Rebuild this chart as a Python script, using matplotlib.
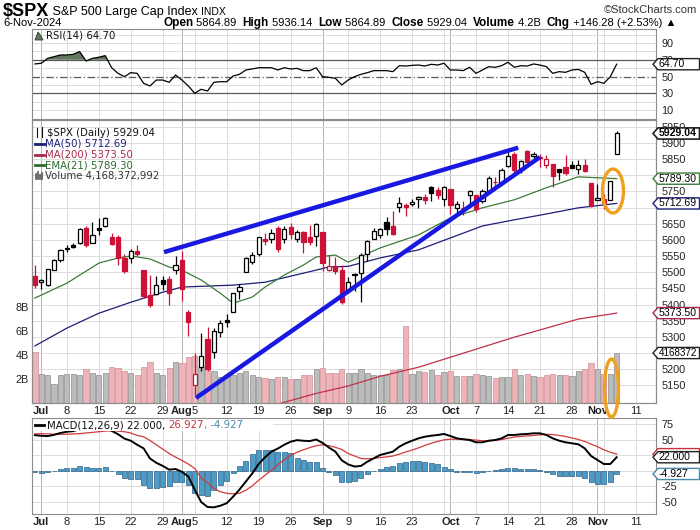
import matplotlib
matplotlib.use("Agg")
import matplotlib.pyplot as plt
import numpy as np
from matplotlib.patches import Polygon, Ellipse, Rectangle
from matplotlib.lines import Line2D
from matplotlib import font_manager

# ---------------- data ----------------
dates = ["Jun 28", "Jul 1", "Jul 2", "Jul 3", "Jul 5", "Jul 8", "Jul 9", "Jul 10", "Jul 11", "Jul 12",
         "Jul 15", "Jul 16", "Jul 17", "Jul 18", "Jul 19", "Jul 22", "Jul 23", "Jul 24", "Jul 25", "Jul 26",
         "Jul 29", "Jul 30", "Jul 31", "Aug 1", "Aug 2", "Aug 5", "Aug 6", "Aug 7", "Aug 8", "Aug 9",
         "Aug 12", "Aug 13", "Aug 14", "Aug 15", "Aug 16", "Aug 19", "Aug 20", "Aug 21", "Aug 22", "Aug 23",
         "Aug 26", "Aug 27", "Aug 28", "Aug 29", "Aug 30", "Sep 3", "Sep 4", "Sep 5", "Sep 6", "Sep 9",
         "Sep 10", "Sep 11", "Sep 12", "Sep 13", "Sep 16", "Sep 17", "Sep 18", "Sep 19", "Sep 20", "Sep 23",
         "Sep 24", "Sep 25", "Sep 26", "Sep 27", "Sep 30", "Oct 1", "Oct 2", "Oct 3", "Oct 4", "Oct 7",
         "Oct 8", "Oct 9", "Oct 10", "Oct 11", "Oct 14", "Oct 15", "Oct 16", "Oct 17", "Oct 18", "Oct 21",
         "Oct 22", "Oct 23", "Oct 24", "Oct 25", "Oct 28", "Oct 29", "Oct 30", "Oct 31", "Nov 1", "Nov 4",
         "Nov 5", "Nov 6"]
future_dates = ["Nov 7", "Nov 8", "Nov 11", "Nov 12", "Nov 13", "Nov 14"]

prior_close = 5482.87
opens = [5488.5, 5471.1, 5461.8, 5507.4, 5537.9, 5572.8, 5584.2, 5591.3, 5635.2, 5590.8,
         5638.2, 5644.1, 5610.1, 5608.6, 5543.4, 5544.5, 5565.3, 5505.8, 5428.7, 5433.7,
         5476.6, 5478.7, 5505.6, 5537.8, 5376.6, 5151.1, 5206.4, 5293.1, 5252.6, 5314.0,
         5351.9, 5377.0, 5442.9, 5501.1, 5530.5, 5557.2, 5602.9, 5603.1, 5637.8, 5602.9,
         5639.7, 5602.9, 5624.5, 5607.3, 5612.7, 5623.9, 5506.7, 5520.1, 5507.3, 5442.1,
         5490.5, 5496.4, 5557.5, 5603.3, 5615.2, 5655.5, 5641.7, 5702.6, 5709.2, 5711.9,
         5727.6, 5733.7, 5762.2, 5755.4, 5726.5, 5757.7, 5698.2, 5698.6, 5737.6, 5737.8,
         5719.1, 5751.8, 5778.4, 5775.1, 5829.8, 5866.7, 5816.6, 5875.6, 5859.4, 5857.8,
         5832.7, 5834.5, 5817.8, 5826.8, 5830.2, 5819.7, 5832.7, 5775.3, 5723.2, 5725.2,
         5722.4, 5864.9]
highs = [5523.6, 5479.6, 5509.7, 5539.3, 5570.3, 5583.1, 5590.8, 5635.4, 5642.5, 5655.6,
         5666.9, 5669.7, 5622.5, 5614.1, 5557.5, 5570.4, 5585.3, 5508.0, 5491.6, 5488.3,
         5487.7, 5489.5, 5551.5, 5566.2, 5383.9, 5250.9, 5312.3, 5330.6, 5328.0, 5350.7,
         5371.2, 5436.5, 5463.2, 5546.2, 5562.0, 5608.3, 5620.5, 5632.7, 5643.2, 5641.8,
         5651.6, 5631.2, 5627.0, 5647.0, 5651.4, 5623.9, 5553.0, 5546.3, 5522.5, 5484.2,
         5497.9, 5560.4, 5600.7, 5636.3, 5636.1, 5670.8, 5689.8, 5733.6, 5715.1, 5725.4,
         5735.3, 5741.0, 5767.4, 5763.8, 5765.1, 5757.7, 5719.1, 5718.8, 5753.9, 5739.3,
         5757.6, 5796.8, 5795.0, 5822.1, 5871.4, 5870.4, 5846.5, 5878.5, 5872.2, 5866.9,
         5863.0, 5834.9, 5817.8, 5862.8, 5842.9, 5847.2, 5850.9, 5775.3, 5772.8, 5741.4,
         5783.4, 5936.1]
lows = [5451.1, 5446.5, 5458.4, 5507.4, 5531.6, 5562.5, 5574.6, 5586.4, 5576.5, 5590.4,
        5614.8, 5639.0, 5584.8, 5522.8, 5497.0, 5529.0, 5550.9, 5420.0, 5391.0, 5430.7,
        5444.4, 5398.8, 5493.8, 5410.4, 5302.0, 5119.3, 5193.6, 5195.5, 5233.9, 5300.0,
        5331.0, 5377.0, 5415.9, 5501.1, 5525.2, 5550.7, 5585.5, 5591.6, 5561.0, 5590.1,
        5602.3, 5593.5, 5560.2, 5583.7, 5581.8, 5504.3, 5503.7, 5493.3, 5402.6, 5434.5,
        5441.7, 5407.0, 5535.5, 5601.7, 5604.5, 5614.1, 5615.1, 5686.4, 5674.5, 5704.9,
        5699.0, 5712.1, 5721.0, 5727.3, 5703.5, 5681.3, 5674.0, 5677.4, 5702.7, 5686.9,
        5714.6, 5745.0, 5764.8, 5775.1, 5824.8, 5804.5, 5808.3, 5840.3, 5846.1, 5824.7,
        5821.2, 5762.4, 5784.9, 5800.0, 5823.1, 5802.5, 5811.3, 5702.9, 5723.2, 5696.5,
        5722.1, 5864.9]
closes = [5460.5, 5475.1, 5509.0, 5537.0, 5567.2, 5572.9, 5577.0, 5633.9, 5584.5, 5615.4,
          5631.2, 5667.2, 5588.3, 5544.6, 5505.0, 5564.4, 5555.7, 5427.1, 5399.2, 5459.1,
          5463.5, 5436.4, 5522.3, 5446.7, 5346.6, 5186.3, 5240.0, 5199.5, 5319.3, 5344.2,
          5344.4, 5434.4, 5455.2, 5543.2, 5554.3, 5608.3, 5597.1, 5620.9, 5570.6, 5634.6,
          5616.8, 5625.8, 5592.2, 5592.0, 5648.4, 5528.9, 5520.1, 5503.4, 5408.4, 5471.1,
          5495.5, 5554.1, 5595.8, 5626.0, 5633.1, 5634.6, 5618.3, 5713.6, 5702.6, 5718.6,
          5732.9, 5722.3, 5745.4, 5738.2, 5762.5, 5708.8, 5709.5, 5699.9, 5751.1, 5695.9,
          5751.1, 5792.0, 5780.1, 5815.0, 5859.9, 5815.3, 5842.5, 5841.5, 5864.7, 5854.0,
          5851.2, 5797.4, 5809.9, 5808.1, 5823.5, 5832.9, 5813.7, 5705.5, 5728.8, 5712.7,
          5782.8, 5929.04]
volume_b = [4.28, 2.39, 2.35, 1.56, 2.30, 2.40, 2.40, 2.30, 2.80, 2.47,
            2.35, 2.47, 3.03, 2.90, 2.70, 2.47, 2.35, 2.97, 3.44, 2.53,
            2.35, 2.90, 3.42, 3.30, 3.86, 3.90, 3.03, 2.80, 2.64, 2.14,
            2.30, 2.35, 2.47, 2.70, 2.30, 2.14, 2.08, 2.00, 2.20, 2.14,
            2.00, 2.00, 2.30, 2.35, 2.86, 2.90, 2.47, 2.47, 2.80, 2.50,
            2.53, 2.80, 2.50, 2.36, 2.36, 2.36, 2.78, 2.80, 6.40, 2.44,
            2.64, 2.55, 2.78, 2.36, 2.58, 2.70, 2.28, 2.28, 2.28, 2.40,
            2.36, 2.28, 2.08, 2.16, 2.16, 2.83, 2.36, 2.40, 2.28, 2.16,
            2.36, 2.40, 2.36, 2.36, 2.28, 2.70, 2.83, 3.30, 2.86, 2.44,
            2.44, 4.17]

ma50_dates = ["Jun 28", "Jul 8", "Jul 15", "Jul 22", "Jul 29", "Aug 1", "Aug 13", "Aug 20", "Aug 28",
              "Sep 4", "Sep 9", "Sep 16", "Sep 24", "Oct 1", "Oct 8", "Oct 15", "Oct 22", "Oct 29", "Nov 6"]
ma50_values = [5272, 5327, 5373, 5407, 5438, 5454, 5460, 5469, 5497,
               5516, 5518, 5544, 5569, 5606, 5643, 5662, 5680, 5699, 5712.69]

ema21_dates = ["Jun 28", "Jul 8", "Jul 15", "Jul 18", "Jul 22", "Jul 25", "Jul 30", "Aug 1", "Aug 6",
               "Aug 9", "Aug 13", "Aug 16", "Aug 20", "Aug 23", "Aug 28", "Aug 30", "Sep 5", "Sep 9",
               "Sep 16", "Sep 24", "Oct 1", "Oct 8", "Oct 15", "Oct 22", "Oct 29", "Nov 1", "Nov 6"]
ema21_values = [5420, 5466, 5528, 5544, 5550, 5541, 5516, 5506, 5476,
                5435, 5404, 5423, 5454, 5491, 5522, 5547, 5553, 5531,
                5575, 5615, 5668, 5699, 5724, 5761, 5795, 5792, 5789.30]

ma200_dates = ["Aug 22", "Aug 30", "Sep 9", "Sep 16", "Sep 24", "Oct 1", "Oct 8", "Oct 15", "Oct 22",
               "Oct 29", "Nov 6"]
ma200_values = [5092, 5125, 5148, 5178, 5206, 5237, 5268, 5299, 5327, 5355, 5373.50]

rsi_values = [65.0, 65.8, 71.7, 73.7, 75.7, 75.7, 76.5, 79.7, 68.5, 71.7,
              73.0, 74.9, 60.5, 53.8, 49.8, 54.6, 53.8, 41.9, 38.7, 45.8,
              45.8, 43.1, 51.8, 45.8, 38.7, 30.0, 34.7, 32.7, 43.1, 43.8,
              43.8, 50.6, 52.6, 57.8, 59.0, 60.5, 60.5, 60.5, 57.8, 60.5,
              59.0, 59.7, 57.0, 57.0, 60.5, 49.8, 49.0, 47.9, 39.9, 45.8,
              49.8, 52.6, 54.6, 57.0, 57.0, 57.0, 55.8, 62.9, 62.5, 63.3,
              63.7, 62.5, 64.6, 63.7, 65.8, 57.8, 57.8, 57.0, 61.0, 53.8,
              57.8, 61.8, 61.0, 62.9, 67.0, 61.0, 62.9, 62.5, 65.0, 63.7,
              61.8, 53.8, 55.8, 55.0, 57.8, 58.5, 55.0, 40.7, 43.8, 41.9,
              49.8, 64.70]

macd_values = [57.5, 56.5, 56.0, 58.0, 61.0, 63.0, 64.0, 67.0, 67.5, 68.0,
               68.0, 70.0, 64.5, 59.0, 52.0, 48.5, 42.0, 36.3, 20.0, 13.0,
               8.0, 2.0, 3.0, -1.5, -9.0, -30.0, -50.0, -58.0, -58.6, -56.0,
               -52.0, -41.5, -30.0, -17.0, -4.0, 11.0, 22.0, 31.0, 36.0, 42.0,
               47.0, 49.5, 48.5, 48.0, 50.5, 45.0, 37.5, 31.0, 17.0, 10.5,
               7.0, 8.0, 14.8, 20.3, 25.6, 28.3, 31.0, 39.0, 44.4, 48.6,
               52.4, 55.0, 56.6, 57.8, 59.4, 56.1, 52.4, 50.8, 49.7, 46.0,
               46.0, 48.6, 49.7, 52.4, 57.8, 57.8, 58.9, 59.4, 60.5, 60.5,
               57.8, 52.4, 48.6, 46.0, 44.4, 42.8, 36.3, 24.0, 17.5, 11.1,
               11.1, 22.000]
signal_values = [59.5, 60.0, 59.5, 59.0, 59.0, 59.0, 59.5, 60.0, 61.0, 62.0,
                 63.0, 64.0, 64.5, 64.0, 63.0, 61.0, 57.0, 55.0, 49.0, 42.0,
                 35.0, 28.0, 22.0, 17.0, 11.0, 4.0, -11.0, -19.0, -28.0, -33.5,
                 -36.0, -37.0, -36.0, -31.0, -24.0, -15.0, -7.0, 1.0, 10.0, 18.0,
                 25.0, 30.0, 34.0, 37.5, 40.5, 42.0, 40.5, 38.0, 34.5, 28.0,
                 24.0, 20.0, 19.5, 20.0, 21.5, 22.5, 24.0, 27.0, 30.5, 33.5,
                 37.0, 41.0, 44.5, 47.5, 50.0, 51.0, 51.0, 51.0, 50.5, 49.5,
                 48.6, 48.5, 49.0, 50.5, 52.5, 54.5, 55.5, 56.2, 57.0, 58.0,
                 58.8, 58.5, 57.0, 55.5, 53.0, 50.5, 47.5, 43.0, 39.0, 34.0,
                 30.0, 26.927]
hist_values = [-1.0, -3.9, -2.0, 0.0, 2.7, 4.3, 4.3, 8.0, 5.9, 5.4,
               4.3, 5.9, 0.0, -5.4, -11.8, -12.9, -13.4, -22.5, -27.9, -27.9,
               -26.3, -24.1, -17.2, -17.2, -22.5, -35.9, -38.6, -40.2, -30.6, -22.5,
               -15.6, -3.8, 8.0, 16.1, 26.8, 33.8, 33.8, 33.8, 31.1, 31.1,
               28.4, 21.4, 17.7, 15.0, 13.9, 4.3, -2.1, -6.4, -17.2, -17.2,
               -16.0, -10.7, -4.8, 0.0, 3.2, 7.0, 8.0, 13.4, 15.0, 16.1,
               16.1, 13.9, 12.3, 10.7, 7.0, 2.7, -1.0, -2.0, -2.0, -3.8,
               -2.0, 0.5, 1.0, 2.7, 5.4, 4.3, 3.8, 3.8, 3.2, 1.6,
               -1.0, -4.8, -7.5, -8.0, -8.0, -8.0, -10.7, -18.2, -20.9, -20.9,
               -17.2, -4.927]

month_tick_dates = ["Jul 1", "Aug 1", "Sep 3", "Oct 1", "Nov 1"]
month_tick_labels = ["Jul", "Aug", "Sep", "Oct", "Nov"]
week_tick_dates = ["Jul 8", "Jul 15", "Jul 22", "Jul 29", "Aug 5", "Aug 12", "Aug 19", "Aug 26",
                   "Sep 9", "Sep 16", "Sep 23", "Oct 7", "Oct 14", "Oct 21", "Oct 28", "Nov 11"]
week_tick_labels = ["8", "15", "22", "29", "5", "12", "19", "26", "9", "16", "23", "7", "14", "21", "28", "11"]
grid_only_dates = ["Sep 30", "Nov 4"]

price_ticks = list(range(5150, 5951, 50))
price_hidden = [5250, 5700, 5800]          # covered by the value tags
rsi_ticks = [10, 30, 50, 70, 90]
macd_ticks = [-50, -25, 0, 25, 50, 75]
macd_hidden = [0, 25]
vol_ticks = [2, 4, 6, 8]
vol_tick_labels = ["2B", "4B", "6B", "8B"]

# ---------------- style ----------------
W, H = 700, 530
names = {f.name for f in font_manager.fontManager.ttflist}
NARROW = "Liberation Sans Narrow" if "Liberation Sans Narrow" in names else "Liberation Sans"
SANS = "Liberation Sans"
LEG = "DejaVu Sans"

RED = "#cc1236"
GRID = "#dcdcdc"
GRID_M = "#b4b4b4"
SPINE = "#8c8c8c"

fig = plt.figure(figsize=(W / 100, H / 100), dpi=100)
fig.patch.set_facecolor("white")

all_dates = dates + future_dates
pos = {d: i for i, d in enumerate(all_dates)}
x = np.arange(len(dates))
PX0, STEP = 34.9, 6.393          # pixel of first bar, pixels per bar
L, R = 32, 656
XLIM = ((L - PX0) / STEP, (R - PX0) / STEP)


def axes_px(left, top, right, bottom, **kw):
    return fig.add_axes([left / W, 1 - bottom / H, (right - left) / W, (bottom - top) / H], **kw)


def fxy(px, py):
    return px / W, 1 - py / H


def style_axes(ax):
    for s in ax.spines.values():
        s.set_color(SPINE)
        s.set_linewidth(0.8)
    ax.tick_params(length=0, labelsize=7.5, colors="#222222")
    ax.set_xlim(*XLIM)


def vgrid(ax):
    for d in week_tick_dates + grid_only_dates:
        ax.axvline(pos[d], color=GRID, lw=0.7, zorder=0)
    for d in month_tick_dates:
        ax.axvline(pos[d], color=GRID_M, lw=0.7, zorder=0)


def xlabels(ax):
    ticks = [pos[d] for d in month_tick_dates + week_tick_dates]
    labs = month_tick_labels + week_tick_labels
    ax.set_xticks(ticks)
    ax.set_xticklabels(labs, fontfamily=SANS, fontsize=8)
    for t in ax.get_xticklabels():
        if t.get_text() in month_tick_labels:
            t.set_fontweight("bold")
    ax.tick_params(axis="x", pad=2)


def right_ticks(ax, ticks, hidden=()):
    ax.yaxis.tick_right()
    ax.set_yticks(ticks)
    ax.set_yticklabels(["" if t in hidden else str(t) for t in ticks], fontfamily=SANS, fontsize=7.8)
    ax.tick_params(axis="y", pad=4)


def hgrid(ax, ticks):
    for t in ticks:
        ax.axhline(t, color=GRID, lw=0.7, zorder=0)


TAGZ = [20]


def tag(ax, val, text, edge, bold=False, lw=1.0, size=7.6):
    y = ax.transData.transform((0, val))[1]
    yc = y / H
    h = 5.6 / H
    x0, x1 = 653 / W, 699.5 / W
    pts = [(x0, yc), (x0 + 5 / W, yc + h), (x1, yc + h), (x1, yc - h), (x0 + 5 / W, yc - h)]
    TAGZ[0] += 2
    fig.add_artist(Polygon(pts, closed=True, transform=fig.transFigure, facecolor="white",
                           edgecolor=edge, lw=lw, zorder=TAGZ[0]))
    if text:
        fig.text(x0 + 5.5 / W, yc, text, fontsize=size, fontfamily=SANS, va="center", ha="left",
                 fontweight="bold" if bold else "normal", zorder=TAGZ[0] + 1)


def pieces(px, py, parts, va="center", z=5):
    r = fig.canvas.get_renderer()
    cur = px
    for s, kw in parts:
        t = fig.text(*fxy(cur, py), s, va=va, ha="left", zorder=z, **kw)
        cur += t.get_window_extent(r).width
    return cur


# ---------------- RSI panel ----------------
ax_r = axes_px(L, 29, R, 119)
style_axes(ax_r)
ax_r.set_ylim(-0.7, 106.7)
vgrid(ax_r)
right_ticks(ax_r, rsi_ticks)
hgrid(ax_r, [10, 20, 40, 60, 80, 90, 100])
ax_r.set_xticks([])
rsi = np.array(rsi_values)
ax_r.fill_between(x, rsi, 70, where=rsi > 70, interpolate=True, color="#62785e", zorder=2, lw=0)
ax_r.fill_between(x, rsi, 30, where=rsi < 30, interpolate=True, color="#62785e", zorder=2, lw=0)
ax_r.axhline(70, color="#5a5a5a", lw=0.9, zorder=1)
ax_r.axhline(30, color="#5a5a5a", lw=0.9, zorder=1)
ax_r.axhline(50, color="#5a5a5a", lw=0.9, ls=(0, (6, 2, 1, 2)), zorder=1)
ax_r.plot(x, rsi, color="black", lw=0.9, zorder=3)

# ---------------- Price / volume panel ----------------
ax_v = axes_px(L, 120, R, 403)
style_axes(ax_v)
ax_v.set_ylim(0, 23.6)
ax_p = axes_px(L, 120, R, 403, sharex=ax_v)
ax_p.patch.set_visible(False)
style_axes(ax_p)
PMIN, PMAX = 5095.4, 5970.7
ax_p.set_ylim(PMIN, PMAX)
ax_v.set_zorder(1)
ax_p.set_zorder(2)

vgrid(ax_v)
for t in price_ticks:
    f = (t - PMIN) / (PMAX - PMIN)
    ax_v.plot([0, 1], [f, f], transform=ax_v.transAxes, color=GRID, lw=0.7, zorder=0)

o = np.array(opens); c = np.array(closes); hi = np.array(highs); lo = np.array(lows)
prev = np.concatenate([[prior_close], c[:-1]])
up = c >= prev
cols = np.where(up, "#000000", RED)
hollow = c > o

vcols = np.where(up, "#bcbcbc", "#eeb4b9")
vedge = np.where(up, "#9a9a9a", "#d69aa0")
ax_v.bar(x, volume_b, width=0.82, color=vcols, edgecolor=vedge, lw=0.6, zorder=2)
ax_v.yaxis.tick_left()
ax_v.set_yticks(vol_ticks)
ax_v.set_yticklabels(vol_tick_labels, fontfamily=SANS, fontsize=7.8)
ax_v.tick_params(axis="y", pad=2)
ax_v.tick_params(axis="x", labelbottom=False)

ax_p.plot([pos[d] for d in ma200_dates], ma200_values, color="#c0304a", lw=0.9, zorder=2)
ax_p.plot([pos[d] for d in ma50_dates], ma50_values, color="#1e1e78", lw=0.9, zorder=2)
ax_p.plot([pos[d] for d in ema21_dates], ema21_values, color="#3c7a3c", lw=0.9, zorder=2)

ax_p.vlines(x, lo, hi, colors=cols, lw=0.9, zorder=3)
body_b = np.minimum(o, c)
body_h = np.maximum(np.abs(c - o), 0.6)
faces = np.where(hollow, "white", cols)
ax_p.bar(x, body_h, bottom=body_b, width=0.66, color=faces, edgecolor=cols, lw=0.9, zorder=4)

right_ticks(ax_p, price_ticks, price_hidden)
xlabels(ax_p)
ax_p.tick_params(axis="x", labelbottom=True)

# trend-line annotations (blue) and highlight ellipses (orange)
ax_p.plot([20.2, 75.6], [5562, 5885], color="#1818e0", lw=3.2, solid_capstyle="butt", zorder=6)
ax_p.plot([25.2, 79.0], [5111, 5856], color="#1818e0", lw=3.2, solid_capstyle="butt", zorder=6)
for (cx, cy, ew, eh) in [(613, 191, 21, 44), (611.5, 388, 14, 58)]:
    fig.add_artist(Ellipse(fxy(cx, cy), ew / W, eh / H, transform=fig.transFigure,
                           fill=False, edgecolor="#f0a020", lw=2.4, zorder=15))

# ---------------- MACD panel ----------------
ax_m = axes_px(L, 418, R, 514)
style_axes(ax_m)
ax_m.set_ylim(-69.3, 85.1)
vgrid(ax_m)
right_ticks(ax_m, macd_ticks, macd_hidden)
hgrid(ax_m, macd_ticks)
ax_m.bar(x, hist_values, width=0.78, color="#4d9cc8", edgecolor="#2d6088", lw=0.5, zorder=2)
ax_m.plot(x, signal_values, color="#d23a3a", lw=0.9, zorder=3)
ax_m.plot(x, macd_values, color="black", lw=1.4, zorder=4)
xlabels(ax_m)

# ---------------- legends inside panels ----------------
LK = dict(fontfamily=LEG, fontsize=7.3)
# RSI
fig.add_artist(Polygon([fxy(35, 40), fxy(38, 32), fxy(41, 36), fxy(43, 40)], closed=True,
                       transform=fig.transFigure, facecolor="#62785e", edgecolor="#333333", lw=0.6))
fig.text(*fxy(46, 36), "RSI(14) 64.70", va="center", ha="left", color="#111111", zorder=5, **LK)
# price legend: little candlestick icon
for cxp, top, bot, btop, bbot in [(37, 128, 137, 130, 135), (42, 127, 137, 129, 134)]:
    fig.add_artist(Line2D([cxp / W] * 2, [1 - top / H, 1 - bot / H], transform=fig.transFigure,
                          color="#111111", lw=0.8))
    fig.add_artist(Rectangle(fxy(cxp - 1.5, bbot), 3 / W, (bbot - btop) / H, transform=fig.transFigure,
                             facecolor="#111111", edgecolor="#111111", lw=0.5))
fig.text(*fxy(47, 132.5), "$SPX (Daily) 5929.04", va="center", ha="left", color="#111111", zorder=5, **LK)
for yy, txt, col in [(144, "MA(50) 5712.69", "#1e1e78"), (154.5, "MA(200) 5373.50", "#a8284a"),
                     (165, "EMA(21) 5789.30", "#2e6a2e")]:
    fig.add_artist(Line2D([35 / W, 44 / W], [1 - yy / H, 1 - yy / H], transform=fig.transFigure,
                          color=col, lw=2))
    fig.text(*fxy(45, yy), txt, va="center", ha="left", color=col, zorder=5, **LK)
for k, hh in enumerate([5, 7, 4, 6]):
    fig.add_artist(Line2D([(36 + 2 * k) / W] * 2, [1 - 179 / H, 1 - (179 - hh) / H],
                          transform=fig.transFigure, color="#555555", lw=1.2))
fig.text(*fxy(45, 175.5), "Volume 4,168,372,992", va="center", ha="left", color="#333333", zorder=5, **LK)
# MACD legend with white backing
fig.add_artist(Rectangle(fxy(33, 431), 240 / W, 11 / H, transform=fig.transFigure,
                         facecolor="white", edgecolor="none", zorder=3.5))
fig.add_artist(Line2D([35 / W, 44 / W], [1 - 425 / H] * 2, transform=fig.transFigure, color="black",
                      lw=2, zorder=4))
pieces(47, 425, [("MACD(12,26,9) 22.000, ", dict(color="#111111", **LK)),
                 ("26.927", dict(color="#c8323c", **LK)),
                 (", -4.927", dict(color="#4a8aac", **LK))])

# ---------------- right-hand value tags ----------------
tag(ax_r, 64.70, "64.70", "#222222")
tag(ax_p, 5929.04, "5929.04", "#222222", bold=True, lw=1.2)
tag(ax_p, 5789.30, "5789.30", "#3c7a3c")
tag(ax_p, 5712.69, "5712.69", "#1e1e78")
tag(ax_p, 5373.50, "5373.50", "#a8284a")
tag(ax_v, 4.168, "4168372", "#222222", size=7.1)
tag(ax_m, 26.927, "", "#c8323c")
tag(ax_m, 22.000, "22.000", "#222222")
tag(ax_m, -4.927, "-4.927", "#4a8aac")

# ---------------- header ----------------
pieces(3, 12, [("$SPX", dict(fontfamily=NARROW, fontsize=13, fontweight="bold")),
               (" S&P 500 Large Cap Index ", dict(fontfamily=NARROW, fontsize=9)),
               ("INDX", dict(fontfamily=NARROW, fontsize=7.5))])
fig.text(*fxy(697, 10), "\u00a9StockCharts.com", ha="right", va="center", fontfamily=NARROW,
         fontsize=8, color="#333333")
fig.text(*fxy(3, 23), "6-Nov-2024", ha="left", va="center", fontfamily=NARROW, fontsize=8)
B = dict(fontfamily=NARROW, fontsize=8.5, fontweight="bold")
N = dict(fontfamily=NARROW, fontsize=8)
pieces(163, 23, [("Open", B), (" 5864.89  ", N), ("High", B), (" 5936.14  ", N), ("Low", B),
                 (" 5864.89  ", N), ("Close", B), (" 5929.04  ", N), ("Volume", B), (" 4.2B  ", N),
                 ("Chg", B), (" +146.28 (+2.53%) \u25B2", N)])

fig.savefig("out.png", dpi=100, facecolor="white")
